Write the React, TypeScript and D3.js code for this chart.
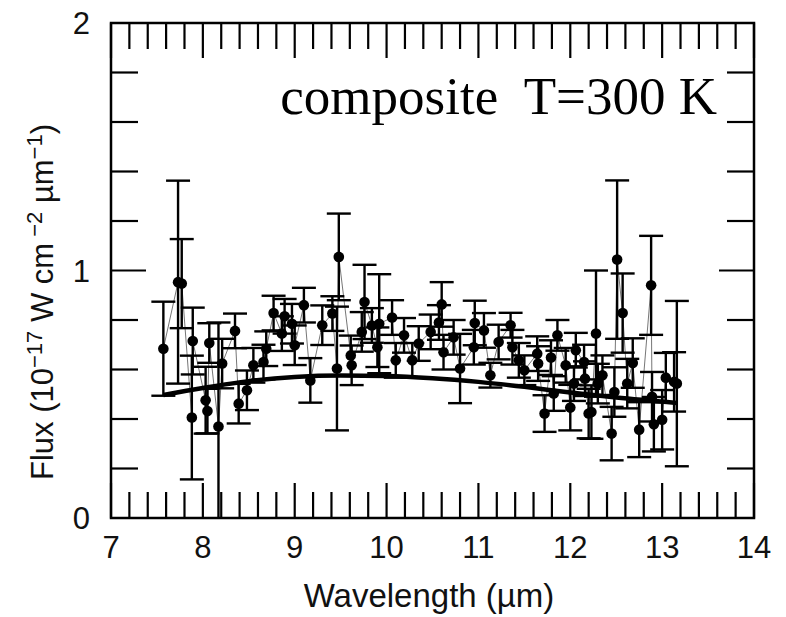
import React from "react";
import * as d3 from "d3";

const wavelength = [7.57, 7.73, 7.77, 7.88, 7.89, 8.03, 8.05, 8.07, 8.17, 8.21, 8.35, 8.39, 8.48, 8.55, 8.66, 8.69, 8.77, 8.86, 8.89, 8.97, 9.0, 9.1, 9.17, 9.3, 9.41, 9.46, 9.48, 9.61, 9.62, 9.73, 9.76, 9.84, 9.9, 9.92, 10.06, 10.1, 10.19, 10.28, 10.35, 10.48, 10.57, 10.6, 10.62, 10.73, 10.8, 10.95, 10.96, 11.06, 11.13, 11.22, 11.35, 11.37, 11.44, 11.5, 11.64, 11.65, 11.72, 11.79, 11.82, 11.86, 11.95, 12.0, 12.04, 12.06, 12.15, 12.16, 12.2, 12.23, 12.28, 12.3, 12.35, 12.45, 12.48, 12.51, 12.57, 12.62, 12.68, 12.75, 12.88, 12.89, 12.91, 13.0, 13.04, 13.13, 13.16];
const flux = [0.684, 0.953, 0.947, 0.406, 0.715, 0.476, 0.432, 0.707, 0.37, 0.624, 0.756, 0.462, 0.516, 0.617, 0.63, 0.684, 0.828, 0.745, 0.815, 0.785, 0.698, 0.86, 0.556, 0.779, 0.826, 0.604, 1.055, 0.657, 0.617, 0.752, 0.873, 0.778, 0.69, 0.785, 0.81, 0.637, 0.738, 0.637, 0.705, 0.752, 0.79, 0.863, 0.67, 0.73, 0.604, 0.69, 0.788, 0.758, 0.577, 0.711, 0.779, 0.69, 0.637, 0.597, 0.664, 0.624, 0.422, 0.648, 0.503, 0.738, 0.617, 0.446, 0.543, 0.678, 0.63, 0.563, 0.422, 0.428, 0.745, 0.543, 0.577, 0.341, 0.509, 1.044, 0.828, 0.543, 0.626, 0.357, 0.94, 0.49, 0.379, 0.397, 0.567, 0.55, 0.543];
const fluxErr = [0.19, 0.41, 0.18, 0.25, 0.135, 0.135, 0.09, 0.08, 0.42, 0.1, 0.07, 0.08, 0.08, 0.07, 0.07, 0.07, 0.07, 0.07, 0.07, 0.08, 0.08, 0.07, 0.09, 0.08, 0.07, 0.25, 0.175, 0.08, 0.08, 0.08, 0.15, 0.07, 0.08, 0.2, 0.07, 0.07, 0.07, 0.07, 0.07, 0.07, 0.07, 0.09, 0.07, 0.07, 0.14, 0.07, 0.09, 0.07, 0.05, 0.07, 0.05, 0.07, 0.07, 0.06, 0.07, 0.07, 0.074, 0.07, 0.07, 0.062, 0.07, 0.092, 0.07, 0.07, 0.07, 0.07, 0.1, 0.108, 0.255, 0.08, 0.08, 0.108, 0.1, 0.32, 0.16, 0.1, 0.1, 0.111, 0.2, 0.1, 0.11, 0.12, 0.1, 0.12, 0.334];

const modelWavelength = [7.57, 8.0, 8.5, 9.0, 9.5, 10.0, 10.5, 11.0, 11.5, 12.0, 12.5, 13.16];
const modelFlux = [0.497, 0.525, 0.553, 0.57, 0.576, 0.574, 0.565, 0.55, 0.53, 0.507, 0.487, 0.465];

const xTickLabels = [7, 8, 9, 10, 11, 12, 13, 14];
const yTickLabels = [0, 1, 2];

const X0 = 111, X1 = 754, Y0 = 518, Y1 = 23;

export default function App() {
  const x = d3.scaleLinear().domain([7, 14]).range([X0, X1]);
  const y = d3.scaleLinear().domain([0, 2]).range([Y0, Y1]);

  const xMinor = d3.range(0, 36).map((i) => 7 + i * 0.2);
  const yMinor = d3.range(0, 11).map((i) => i * 0.2);

  const pts = wavelength.map((w, i) => ({ w, f: flux[i], e: fluxErr[i] }));
  const thin = d3.line<any>().x((d) => x(d.w)).y((d) => y(d.f));
  const model = d3
    .line<number>()
    .x((d, i) => x(modelWavelength[i]))
    .y((d) => y(d))
    .curve(d3.curveMonotoneX);

  const sans = "'Liberation Sans', Arial, sans-serif";
  const cap = 12;

  return (
    <svg width={786} height={617} style={{ position: "absolute", left: 0, top: 0, background: "#fff" }}>
      <defs>
        <clipPath id="plot">
          <rect x={X0} y={Y1} width={X1 - X0} height={Y0 - Y1} />
        </clipPath>
      </defs>
      <g clipPath="url(#plot)">
        <path d={thin(pts) || ""} fill="none" stroke="#666" strokeWidth={0.9} />
        {pts.map((p, i) => (
          <g key={i} stroke="#000" strokeWidth={2.4}>
            <line x1={x(p.w)} x2={x(p.w)} y1={y(p.f - p.e)} y2={y(p.f + p.e)} />
            <line x1={x(p.w) - cap} x2={x(p.w) + cap} y1={y(p.f + p.e)} y2={y(p.f + p.e)} />
            <line x1={x(p.w) - cap} x2={x(p.w) + cap} y1={y(p.f - p.e)} y2={y(p.f - p.e)} />
          </g>
        ))}
        <path d={model(modelFlux) || ""} fill="none" stroke="#000" strokeWidth={4.5} />
        {pts.map((p, i) => (
          <circle key={i} cx={x(p.w)} cy={y(p.f)} r={5.3} fill="#000" />
        ))}
      </g>
      <g stroke="#000" strokeWidth={2.2}>
        {xMinor.map((v, i) => {
          const major = Math.abs(v - Math.round(v)) < 1e-6;
          const len = major ? 35 : 26;
          return (
            <g key={i}>
              <line x1={x(v)} x2={x(v)} y1={Y0} y2={Y0 - len} />
              <line x1={x(v)} x2={x(v)} y1={Y1} y2={Y1 + len} />
            </g>
          );
        })}
        {yMinor.map((v, i) => {
          const major = Math.abs(v - Math.round(v)) < 1e-6;
          const len = major ? 35 : 27;
          return (
            <g key={i}>
              <line x1={X0} x2={X0 + len} y1={y(v)} y2={y(v)} />
              <line x1={X1} x2={X1 - len} y1={y(v)} y2={y(v)} />
            </g>
          );
        })}
        <rect x={X0} y={Y1} width={X1 - X0} height={Y0 - Y1} fill="none" strokeWidth={2.5} />
      </g>
      {xTickLabels.map((v) => (
        <text key={v} x={x(v)} y={558} textAnchor="middle" fontFamily={sans} fontSize={31} fill="#111">
          {v}
        </text>
      ))}
      {yTickLabels.map((v) => (
        <text key={v} x={90} y={y(v) + 11} textAnchor="end" fontFamily={sans} fontSize={31} fill="#111">
          {v}
        </text>
      ))}
      <text x={429} y={607} textAnchor="middle" fontFamily={sans} fontSize={33} fill="#111">
        Wavelength (µm)
      </text>
      <text
        transform={`translate(53, 302) rotate(-90)`}
        textAnchor="middle"
        fontFamily={sans}
        fontSize={31}
        fill="#111"
      >
        Flux (10
        <tspan fontSize={22} dy={-11}>−17</tspan>
        <tspan dy={11}> W cm</tspan>
        <tspan fontSize={22} dy={-11}> −2</tspan>
        <tspan dy={11}>  µm</tspan>
        <tspan fontSize={22} dy={-11}>−1</tspan>
        <tspan dy={11}>)</tspan>
      </text>
      <text x={717} y={114} textAnchor="end" fontFamily="'Liberation Serif', 'Times New Roman', serif" fontSize={53} fill="#000" style={{ whiteSpace: "pre" }}>
        {"composite  T=300 K"}
      </text>
    </svg>
  );
}
